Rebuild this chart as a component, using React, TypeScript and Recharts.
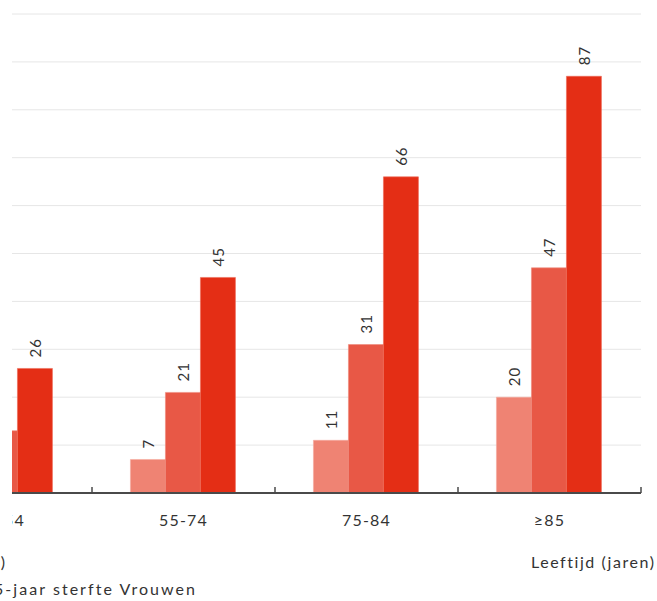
import { Bar, BarChart, CartesianGrid, LabelList, XAxis, YAxis } from "recharts";

const ageGroups = ["45-54", "55-74", "75-84", "≥85"];
const sterfte1jaar = [5, 7, 11, 20];
const sterfte3jaar = [13, 21, 31, 47];
const sterfte5jaar = [26, 45, 66, 87];
const yTicks = [0, 10, 20, 30, 40, 50, 60, 70, 80, 90, 100];

const data = ageGroups.map((leeftijd, i) => ({
  leeftijd,
  een: sterfte1jaar[i],
  drie: sterfte3jaar[i],
  vijf: sterfte5jaar[i],
}));

const FONT = "Lato, 'Open Sans', sans-serif";

// value label drawn vertically above each bar
const VerticalLabel = (props: any) => {
  const { x, y, width, value } = props;
  const cx = Number(x) + Number(width) / 2;
  const cy = Number(y) - 11;
  return (
    <text
      transform={`translate(${cx}, ${cy}) rotate(-90)`}
      textAnchor="start"
      dominantBaseline="central"
      fontSize={15}
      letterSpacing={1}
      fill="#333"
      fontFamily={FONT}
    >
      {value}
    </text>
  );
};

// category label plus small upward tick marks at the category edges
const AgeTick = (props: any) => {
  const { x, y, payload } = props;
  const half = payload && payload.offset ? payload.offset : 91.5;
  return (
    <g>
      <line x1={x + half} x2={x + half} y1={y - 6} y2={y} stroke="#4a4a4a" strokeWidth={1.5} />
      {payload.index === 0 && (
        <line x1={x - half} x2={x - half} y1={y - 6} y2={y} stroke="#4a4a4a" strokeWidth={1.5} />
      )}
      <text
        x={x}
        y={y + 26}
        textAnchor="middle"
        dominantBaseline="central"
        fontSize={16}
        letterSpacing={1.2}
        fill="#333"
        fontFamily={FONT}
      >
        {payload.value}
      </text>
    </g>
  );
};

const App = () => {
  return (
    <div
      style={{
        position: "absolute",
        left: 0,
        top: 0,
        width: 657,
        height: 601,
        overflow: "hidden",
        background: "#fff",
        fontFamily: FONT,
        color: "#333",
      }}
    >
      <div
        style={{
          position: "absolute",
          left: 12,
          top: 0,
          width: 645,
          height: 540,
          overflow: "hidden",
        }}
      >
        <div style={{ position: "absolute", left: -103.5, top: 0 }}>
          <BarChart
            width={742}
            height={540}
            data={data}
            margin={{ top: 14, right: 10, bottom: 0, left: 0 }}
            barCategoryGap="21%"
            barGap={0}
          >
            <CartesianGrid vertical={false} stroke="#e6e6e6" />
            <YAxis hide domain={[0, 100]} ticks={yTicks} />
            <XAxis
              dataKey="leeftijd"
              height={47}
              tickSize={0}
              tickMargin={0}
              tickLine={false}
              axisLine={{ stroke: "#4a4a4a", strokeWidth: 2 }}
              tick={<AgeTick />}
              interval={0}
            />
            <Bar dataKey="een" name="1-jaar" fill="#ef8373" stroke="#f4a99e" strokeWidth={0.6} isAnimationActive={false}>
              <LabelList dataKey="een" content={<VerticalLabel />} />
            </Bar>
            <Bar dataKey="drie" name="3-jaar" fill="#e85846" stroke="#ef8a7c" strokeWidth={0.6} isAnimationActive={false}>
              <LabelList dataKey="drie" content={<VerticalLabel />} />
            </Bar>
            <Bar dataKey="vijf" name="5-jaar" fill="#e42e15" stroke="#ec6a57" strokeWidth={0.6} isAnimationActive={false}>
              <LabelList dataKey="vijf" content={<VerticalLabel />} />
            </Bar>
          </BarChart>
        </div>
      </div>
      <div
        style={{
          position: "absolute",
          left: -300,
          width: 305,
          top: 552,
          textAlign: "right",
          fontSize: 16,
          letterSpacing: 1.6,
          whiteSpace: "nowrap",
        }}
      >
        Sterfte (%
        <span style={{ letterSpacing: 0 }}>)</span>
      </div>
      <div
        style={{
          position: "absolute",
          left: 531,
          top: 552,
          fontSize: 16,
          letterSpacing: 1.55,
          whiteSpace: "nowrap",
        }}
      >
        Leeftijd (jaren)
      </div>
      <div
        style={{
          position: "absolute",
          left: -6,
          top: 579,
          fontSize: 16,
          letterSpacing: 2.05,
          whiteSpace: "nowrap",
        }}
      >
        5-jaar sterfte Vrouwen
      </div>
    </div>
  );
};

export default App;
